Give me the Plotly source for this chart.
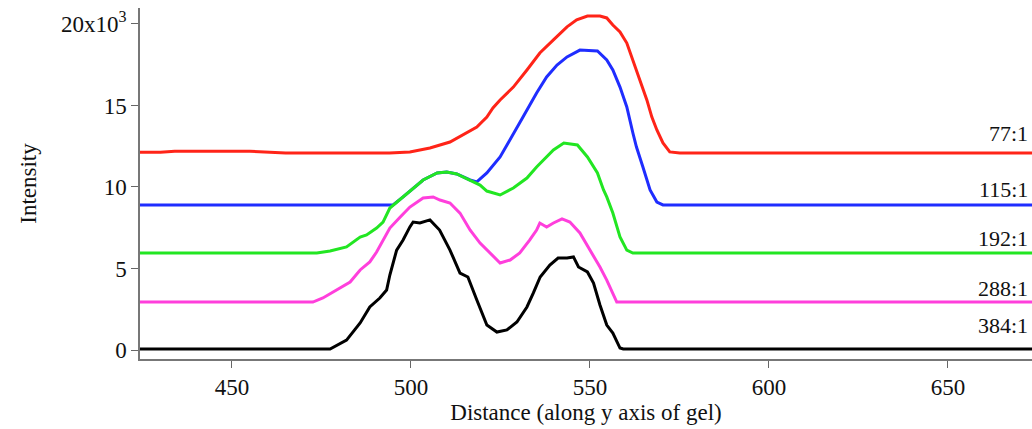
import plotly.graph_objects as go

# ---- data (intensity values) ----
x_black = [424, 477.4, 482, 485.8, 488.5, 491.3, 493.2, 494.1, 496, 497.8, 499.7, 500.6, 502.5, 505.3, 508,
           510.9, 513.7, 515.9, 518.4, 521.2, 524, 526.8, 529.6, 532.4, 534.2, 536.1, 538.8, 541.1, 543.6,
           545.4, 546.8, 549.3, 551, 552.8, 554.7, 556.4, 558.4, 559.3, 674]
y_black = [60, 60, 610, 1660, 2640, 3190, 3680, 4600, 6130, 6750, 7550, 7850, 7790, 7980, 7360,
           6130, 4720, 4480, 3070, 1530, 1100, 1230, 1720, 2640, 3500, 4480, 5210, 5640, 5640,
           5710, 5090, 4790, 4110, 2760, 1530, 1040, 120, 60, 60]

x_magenta = [424, 472.6, 475.4, 479.3, 483, 485.8, 488.5, 490.4, 492.2, 494.1, 497, 499.7, 503.4, 506.2,
             508.1, 510.9, 513.7, 516.5, 519.3, 522.1, 524.9, 527.7, 530.4, 533.2, 535.1, 536, 537.9,
             539.8, 542.2, 544.4, 547.2, 550, 552.8, 554.7, 556, 557.5, 674]
y_magenta = [2940, 2940, 3190, 3680, 4170, 4910, 5400, 6010, 6750, 7480, 8160, 8770, 9330, 9390,
             9200, 9020, 8400, 7360, 6560, 5950, 5340, 5520, 5950, 6750, 7360, 7790, 7550,
             7790, 8040, 7850, 7180, 6130, 5090, 4290, 3680, 2940, 2940]

x_green = [424, 473.7, 477.4, 482, 485.8, 487.6, 490.4, 492.2, 494.1, 497.8, 499.7, 503.4, 507.3, 510,
           512.8, 516.5, 519.3, 521.2, 524.9, 528.6, 532.4, 535.1, 537.9, 539.8, 542.7, 546.5, 549.3,
           552.1, 553.8, 554.7, 556.4, 558.4, 560.3, 562, 674]
y_green = [5950, 5950, 6070, 6320, 6930, 7060, 7480, 7850, 8710, 9390, 9750, 10430, 10860, 10920,
           10800, 10430, 10120, 9750, 9510, 9940, 10550, 11230, 11840, 12270, 12700, 12580, 11840,
           10860, 9820, 9390, 8400, 6930, 6130, 5950, 5950]

x_blue = [424, 495, 497.8, 499.7, 503.4, 507.3, 510, 512.8, 516.5, 518.4, 521.2, 524.9, 527.7, 531.3,
          535.1, 537.9, 540.8, 543.6, 547.2, 552.1, 554.7, 556.4, 558.4, 560.3, 562, 563, 564.8,
          566.8, 568.7, 570.4, 674]
y_blue = [8900, 8900, 9390, 9750, 10430, 10860, 10920, 10800, 10430, 10310, 10860, 11840, 12880, 14290,
          15770, 16750, 17480, 17980, 18400, 18340, 17790, 17180, 16130, 14910, 13310, 12450, 11230,
          9820, 9080, 8900, 8900]

x_red = [424, 430, 434, 455, 465, 494, 499.7, 505.3, 510.9, 514.5, 518.4, 521.2, 522.9, 524.9, 528.6,
         532.4, 536, 539.8, 543.6, 546.3, 549.3, 552.8, 554.7, 556.4, 558.4, 560.3, 562, 564, 565.9,
         567.3, 568.7, 570.4, 572.3, 575.1, 674]
y_red = [12130, 12130, 12190, 12190, 12090, 12090, 12150, 12390, 12760, 13190, 13680, 14290, 14850, 15340, 16130,
         17180, 18220, 19020, 19820, 20250, 20490, 20490, 20370, 19940, 19510, 18830, 17790, 16560, 15340,
         14290, 13500, 12700, 12150, 12090, 12090]

ratio_labels = ["77:1", "115:1", "192:1", "288:1", "384:1"]
label_y = [13300, 9820, 6870, 3800, 1500]

y_tickvals = [0, 5000, 10000, 15000, 20000]
y_ticktext = ["0", "5", "10", "15", "20x10<sup>3</sup>"]
x_tickvals = [450, 500, 550, 600, 650]

series = [
    (x_black, y_black, "#000000", "384:1"),
    (x_magenta, y_magenta, "#ff3fdc", "288:1"),
    (x_blue, y_blue, "#1f2dff", "115:1"),
    (x_green, y_green, "#22e622", "192:1"),
    (x_red, y_red, "#ff2418", "77:1"),
]

fig = go.Figure()
for xs, ys, col, name in series:
    fig.add_trace(go.Scatter(x=xs, y=ys, mode="lines", name=name,
                             line=dict(color=col, width=3), showlegend=False))

for txt, yv in zip(ratio_labels, label_y):
    fig.add_annotation(x=1, xref="paper", y=yv, yref="y", text=txt, showarrow=False,
                       xanchor="right", yanchor="middle", xshift=-2,
                       font=dict(family="Liberation Serif", size=22, color="#111"))

axis_font = dict(family="Liberation Serif", size=23, color="#111")
fig.update_layout(
    width=1032, height=429,
    margin=dict(l=140, r=0, t=8, b=70),
    plot_bgcolor="white", paper_bgcolor="white",
    font=axis_font,
    xaxis=dict(range=[424.3, 673.5], tickvals=x_tickvals, ticks="outside", ticklen=7,
               tickcolor="#666", showline=True, linecolor="#777", linewidth=1.5,
               showgrid=False, zeroline=False, tickfont=axis_font,
               title=dict(text="Distance (along y axis of gel)", font=axis_font, standoff=4)),
    yaxis=dict(range=[-552, 20980], tickvals=y_tickvals, ticktext=y_ticktext, ticks="outside",
               ticklen=7, tickcolor="#666", showline=True, linecolor="#777", linewidth=1.5,
               showgrid=False, zeroline=False, tickfont=axis_font,
               title=dict(text="Intensity", font=axis_font, standoff=18)),
)

fig.write_html("out.html")
